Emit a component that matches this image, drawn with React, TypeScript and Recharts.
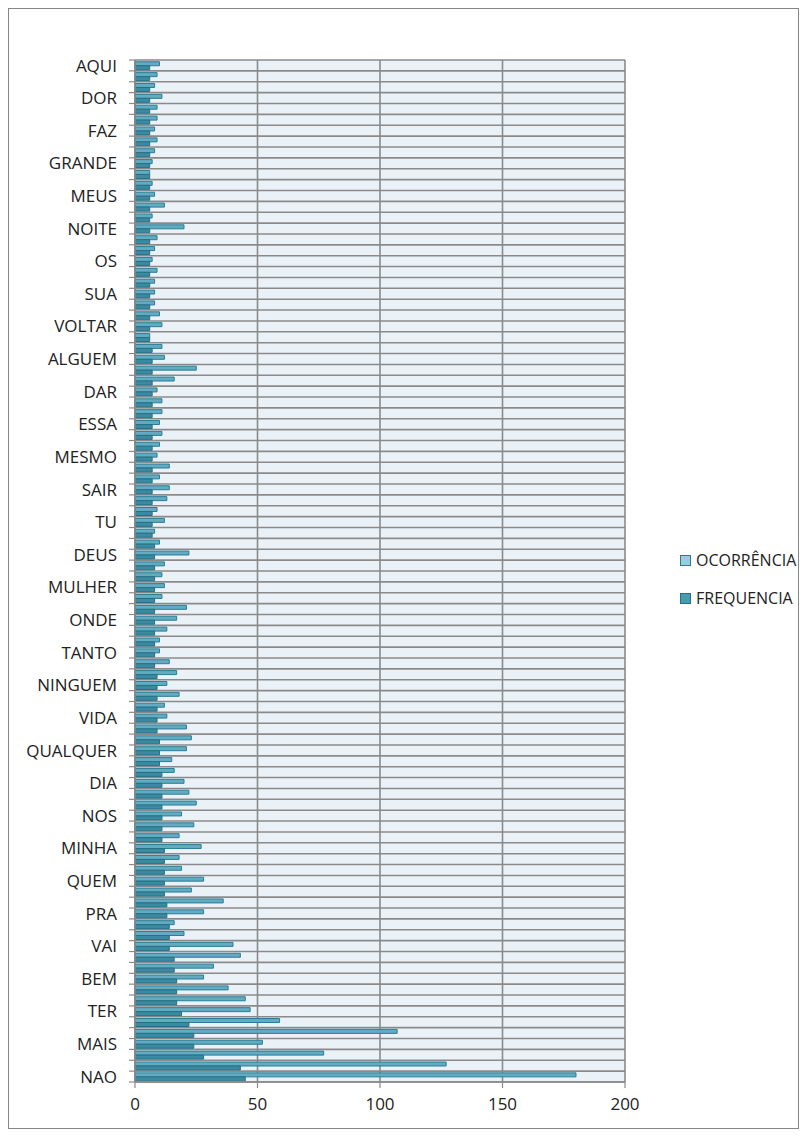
import React from 'react';
import { BarChart, Bar, XAxis, YAxis, CartesianGrid, Legend } from 'recharts';

const categories = [
  'AQUI', 'BOCA', 'CEU', 'DOR', 'ESTOU', 'FALAR', 'FAZ', 'FIM', 'FOI', 'GRANDE',
  'JEITO', 'LUGAR', 'MEUS', 'MIM', 'MUNDO', 'NOITE', 'NUNCA', 'OLHAR', 'OS', 'PAZ',
  'SOL', 'SUA', 'TEMPO', 'VER', 'VOLTAR', 'VOU', 'AGORA', 'ALGUEM', 'ASSIM', 'COISA',
  'DAR', 'DEPOIS', 'DIZER', 'ESSA', 'ESTA', 'LA', 'MESMO', 'NADA', 'PORQUE', 'SAIR',
  'SEI', 'SEMPRE', 'TU', 'VEM', 'CORACAO', 'DEUS', 'ELA', 'ISSO', 'MULHER', 'NEM',
  'O', 'ONDE', 'PODE', 'SE', 'TANTO', 'TE', 'MEU', 'NINGUEM', 'OLHOS', 'QUANDO',
  'VIDA', 'VIVER', 'PRECISO', 'QUALQUER', 'SEM', 'AMOR', 'DIA', 'FICAR', 'HOJE', 'NOS',
  'OU', 'QUERO', 'MINHA', 'NO', 'PARA', 'QUEM', 'SO', 'MAS', 'PRA', 'TEM',
  'UMA', 'VAI', 'COMO', 'TUDO', 'BEM', 'DE', 'UM', 'TER', 'VOCE', 'EU',
  'MAIS', 'ME', 'QUE', 'NAO',
];

const ocorrencia = [
  10, 9, 8, 11, 9, 9, 8, 9, 8, 7,
  6, 7, 8, 12, 7, 20, 9, 8, 7, 9,
  8, 8, 8, 10, 11, 6, 11, 12, 25, 16,
  9, 11, 11, 10, 11, 10, 9, 14, 10, 14,
  13, 9, 12, 8, 10, 22, 12, 11, 12, 11,
  21, 17, 13, 10, 10, 14, 17, 13, 18, 12,
  13, 21, 23, 21, 15, 16, 20, 22, 25, 19,
  24, 18, 27, 18, 19, 28, 23, 36, 28, 16,
  20, 40, 43, 32, 28, 38, 45, 47, 59, 107,
  52, 77, 127, 180,
];

const frequencia = [
  6, 6, 6, 6, 6, 6, 6, 6, 6, 6,
  6, 6, 6, 6, 6, 6, 6, 6, 6, 6,
  6, 6, 6, 6, 6, 6, 7, 7, 7, 7,
  7, 7, 7, 7, 7, 7, 7, 7, 7, 7,
  7, 7, 7, 7, 8, 8, 8, 8, 8, 8,
  8, 8, 8, 8, 8, 8, 9, 9, 9, 9,
  9, 9, 10, 10, 10, 11, 11, 11, 11, 11,
  11, 11, 12, 12, 12, 12, 12, 13, 13, 14,
  14, 14, 16, 16, 17, 17, 17, 19, 22, 24,
  24, 28, 43, 45,
];

const xTicks = [0, 50, 100, 150, 200];

const seriesOrder = ['ocorrencia', 'frequencia'];
const seriesInfo: Record<string, { name: string; fill: string; stroke: string }> = {
  ocorrencia: { name: 'OCORRÊNCIA', fill: '#62abc1', stroke: '#2b7d95' },
  frequencia: { name: 'FREQUENCIA', fill: '#3a8aa2', stroke: '#276f84' },
};

const legendSwatch: Record<string, string> = {
  ocorrencia: '#9ccbdc',
  frequencia: '#4a9ab2',
};

const data = categories.map((c, i) => ({
  name: c,
  ocorrencia: ocorrencia[i],
  frequencia: frequencia[i],
}));

const W = 789;
const H = 1119;
const LEGEND_W = 130;
const margin = { top: 51, right: 173 - LEGEND_W, bottom: 16, left: 0 };
const X_AXIS_H = 30;
const Y_AXIS_W = 126;
const plotH = H - margin.top - margin.bottom - X_AXIS_H;
const band = plotH / categories.length;

const FONT = '"Open Sans", "Liberation Sans", sans-serif';
const GRID = '#8a8a8a';
const TEXT = '#222222';

function YTick(props: any) {
  const { x, y, payload, index } = props;
  const top = y - band / 2;
  const bottom = y + band / 2;
  return (
    <g>
      <line x1={x - 6} x2={x} y1={top} y2={top} stroke={GRID} strokeWidth={1.2} />
      {index === categories.length - 1 && (
        <line x1={x - 6} x2={x} y1={bottom} y2={bottom} stroke={GRID} strokeWidth={1.2} />
      )}
      {index % 3 === 0 && (
        <text
          x={x - 18}
          y={y}
          dy="0.36em"
          textAnchor="end"
          fontSize={17}
          fill={TEXT}
          fontFamily={FONT}
        >
          {payload.value}
        </text>
      )}
    </g>
  );
}

function renderLegend(props: any) {
  const payload = (props.payload || []).slice();
  payload.sort(
    (a: any, b: any) => seriesOrder.indexOf(a.dataKey) - seriesOrder.indexOf(b.dataKey)
  );
  return (
    <div style={{ fontFamily: FONT }}>
      {payload.map((entry: any) => {
        const info = seriesInfo[entry.dataKey] || { name: entry.value, fill: entry.color, stroke: entry.color };
        return (
          <div
            key={info.name}
            style={{ display: 'flex', alignItems: 'center', height: 20, marginBottom: 18 }}
          >
            <div
              style={{
                width: 9,
                height: 9,
                background: legendSwatch[entry.dataKey] || info.fill,
                border: `1px solid ${info.stroke}`,
                marginRight: 5,
              }}
            />
            <span style={{ fontSize: 16, color: TEXT, whiteSpace: 'nowrap' }}>{info.name}</span>
          </div>
        );
      })}
    </div>
  );
}

function hGrid(args: any) {
  const off = args && args.offset;
  const top = off && typeof off.top === 'number' ? off.top : margin.top;
  const h = off && typeof off.height === 'number' ? off.height : plotH;
  const n = categories.length;
  const step = h / n;
  const res: number[] = [];
  for (let i = 0; i <= n; i++) res.push(top + i * step);
  return res;
}

export default function App() {
  return (
    <div style={{ width: W, height: H, border: '1px solid #868686', background: '#ffffff' }}>
      <BarChart
        width={W}
        height={H}
        data={data}
        layout="vertical"
        margin={margin}
        barCategoryGap="16%"
        barGap={0}
      >
        <CartesianGrid
          fill="#eaf2f8"
          stroke={GRID}
          strokeWidth={1.6}
          horizontalCoordinatesGenerator={hGrid}
        />
        <XAxis
          type="number"
          domain={[0, 200]}
          ticks={xTicks}
          interval={0}
          height={X_AXIS_H}
          tick={{ fontSize: 17, fill: TEXT, fontFamily: FONT }}
          tickLine={{ stroke: GRID, strokeWidth: 1.2 }}
          axisLine={{ stroke: GRID, strokeWidth: 1.6 }}
          tickSize={6}
          tickMargin={10}
        />
        <YAxis
          type="category"
          dataKey="name"
          width={Y_AXIS_W}
          interval={0}
          tick={<YTick />}
          tickLine={false}
          tickSize={0}
          tickMargin={0}
          axisLine={{ stroke: GRID, strokeWidth: 1.6 }}
        />
        <Legend
          content={renderLegend}
          layout="vertical"
          align="right"
          verticalAlign="middle"
          wrapperStyle={{ position: 'absolute', left: 671, top: 541, width: LEGEND_W, height: 80 }}
        />
        <Bar
          dataKey="ocorrencia"
          name={seriesInfo.ocorrencia.name}
          fill={seriesInfo.ocorrencia.fill}
          stroke={seriesInfo.ocorrencia.stroke}
          strokeWidth={1}
          isAnimationActive={false}
        />
        <Bar
          dataKey="frequencia"
          name={seriesInfo.frequencia.name}
          fill={seriesInfo.frequencia.fill}
          stroke={seriesInfo.frequencia.stroke}
          strokeWidth={1}
          isAnimationActive={false}
        />
      </BarChart>
    </div>
  );
}
